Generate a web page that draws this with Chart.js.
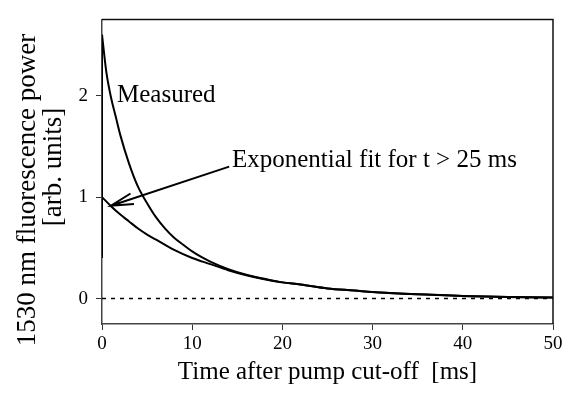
<!DOCTYPE html>
<html>
<head>
<meta charset="utf-8">
<script src="https://cdn.jsdelivr.net/npm/chart.js@4"></script>
<style>
  html, body { margin: 0; padding: 0; background: #fff; }
  #wrap { width: 569px; height: 403px; }
</style>
</head>
<body>
<div id="wrap"><canvas id="c" width="569" height="403"></canvas></div>
<script>
// ===== Data =====
const measuredT = [0, 0.5, 1, 1.5, 2, 3, 4, 5, 6, 7, 8, 9, 10, 11, 12, 14, 16, 18, 20, 22, 25, 28, 30, 35, 40, 45, 50];
const measuredP = [2.6, 2.22, 1.98, 1.8, 1.62, 1.33, 1.1, 0.94, 0.8, 0.69, 0.6, 0.53, 0.465, 0.41, 0.365, 0.29, 0.235, 0.195, 0.16, 0.14, 0.1, 0.08, 0.065, 0.042, 0.026, 0.017, 0.012];
const riseT = [0, 0];            // signal jump at cut-off
const riseP = [0.4, 2.6];
const fitT = [0, 1, 2, 3, 4, 5, 6, 7, 8, 10, 12, 14, 16, 18, 20, 22, 25, 28, 30, 33, 36, 40, 45, 50];
const fitP = [1.0, 0.91, 0.83, 0.76, 0.69, 0.63, 0.58, 0.53, 0.48, 0.4, 0.34, 0.28, 0.23, 0.19, 0.16, 0.14, 0.1, 0.08, 0.065, 0.05, 0.04, 0.026, 0.017, 0.01];
const zeroT = [0, 50];
const zeroP = [0, 0];
const xTicks = [0, 10, 20, 30, 40, 50];
const yTicks = [0, 1, 2];

const xTitle = 'Time after pump cut-off  [ms]';
const yTitle = ['1530 nm fluorescence power', '[arb. units]'];
const labelMeasured = 'Measured';
const labelFit = 'Exponential fit for t > 25 ms';

const FONT = "'Liberation Serif', 'DejaVu Serif', serif";
const pts = (xs, ys) => xs.map((x, i) => ({ x, y: ys[i] }));

// ===== Extra drawing: frame, titles, annotations =====
const decor = {
  id: 'decor',
  afterDraw(chart) {
    const { ctx, chartArea: a, scales: { x, y } } = chart;
    ctx.save();
    // top + right frame
    ctx.strokeStyle = '#111';
    ctx.lineWidth = 1.5;
    ctx.beginPath();
    ctx.moveTo(a.left, a.top); ctx.lineTo(a.right, a.top); ctx.lineTo(a.right, a.bottom);
    ctx.stroke();

    ctx.fillStyle = '#000';
    // x title
    ctx.font = '25px ' + FONT;
    ctx.textAlign = 'center'; ctx.textBaseline = 'middle';
    ctx.fillText(xTitle, (a.left + a.right) / 2, 372);

    // y title (two lines, rotated)
    ctx.save();
    ctx.rotate(-Math.PI / 2);
    ctx.textBaseline = 'alphabetic';
    ctx.font = '27px ' + FONT;
    ctx.fillText(yTitle[0], -190, 35);
    ctx.fillText(yTitle[1], -167, 61);
    ctx.restore();

    // annotations
    ctx.font = '25px ' + FONT;
    ctx.textAlign = 'left'; ctx.textBaseline = 'alphabetic';
    ctx.fillText(labelMeasured, 117, 102);
    ctx.fillText(labelFit, 232, 167);

    // arrow
    const x0 = x.getPixelForValue(14.1), y0 = y.getPixelForValue(1.30);
    const x1 = x.getPixelForValue(1.0), y1 = y.getPixelForValue(0.915);
    ctx.strokeStyle = '#000';
    ctx.lineWidth = 2;
    ctx.beginPath();
    ctx.moveTo(x0, y0); ctx.lineTo(x1, y1);
    const ang = Math.atan2(y0 - y1, x0 - x1);
    const len = 23, spread = 0.24;
    ctx.moveTo(x1 + len * Math.cos(ang + spread), y1 + len * Math.sin(ang + spread));
    ctx.lineTo(x1, y1);
    ctx.lineTo(x1 + len * Math.cos(ang - spread), y1 + len * Math.sin(ang - spread));
    ctx.stroke();
    ctx.restore();
  }
};

const line = (data, extra) => Object.assign({
  data, showLine: true, borderColor: '#000', borderWidth: 2,
  pointRadius: 0, fill: false
}, extra);

new Chart(document.getElementById('c'), {
  type: 'scatter',
  data: {
    datasets: [
      line(pts(zeroT, zeroP), { borderWidth: 1.5, borderDash: [4, 5] }),
      line(pts(riseT, riseP), {}),
      line(pts(fitT, fitP), { cubicInterpolationMode: 'monotone' }),
      line(pts(measuredT, measuredP), { cubicInterpolationMode: 'monotone' })
    ]
  },
  options: {
    responsive: false, animation: false,
    layout: { padding: { top: 7, right: 16, left: 0, bottom: 0 } },
    plugins: { legend: { display: false }, tooltip: { enabled: false } },
    scales: {
      x: {
        type: 'linear', min: 0, max: 50,
        afterBuildTicks: s => { s.ticks = xTicks.map(v => ({ value: v })); },
        afterFit: s => { s.height = 79; },
        grid: { drawOnChartArea: false, drawTicks: true, tickLength: 6, color: '#333', lineWidth: 1 },
        border: { display: true, color: '#444', width: 1.5 },
        ticks: { color: '#000', padding: 3, maxRotation: 0, font: { family: FONT, size: 19 } }
      },
      y: {
        type: 'linear', min: -0.25, max: 2.75,
        afterBuildTicks: s => { s.ticks = yTicks.map(v => ({ value: v })); },
        afterFit: s => { s.width = 102; },
        grid: { drawOnChartArea: false, drawTicks: true, tickLength: 6, color: '#333', lineWidth: 1 },
        border: { display: true, color: '#444', width: 1.5 },
        ticks: { color: '#000', padding: 8, font: { family: FONT, size: 19 } }
      }
    }
  },
  plugins: [decor]
});
</script>
</body>
</html>
